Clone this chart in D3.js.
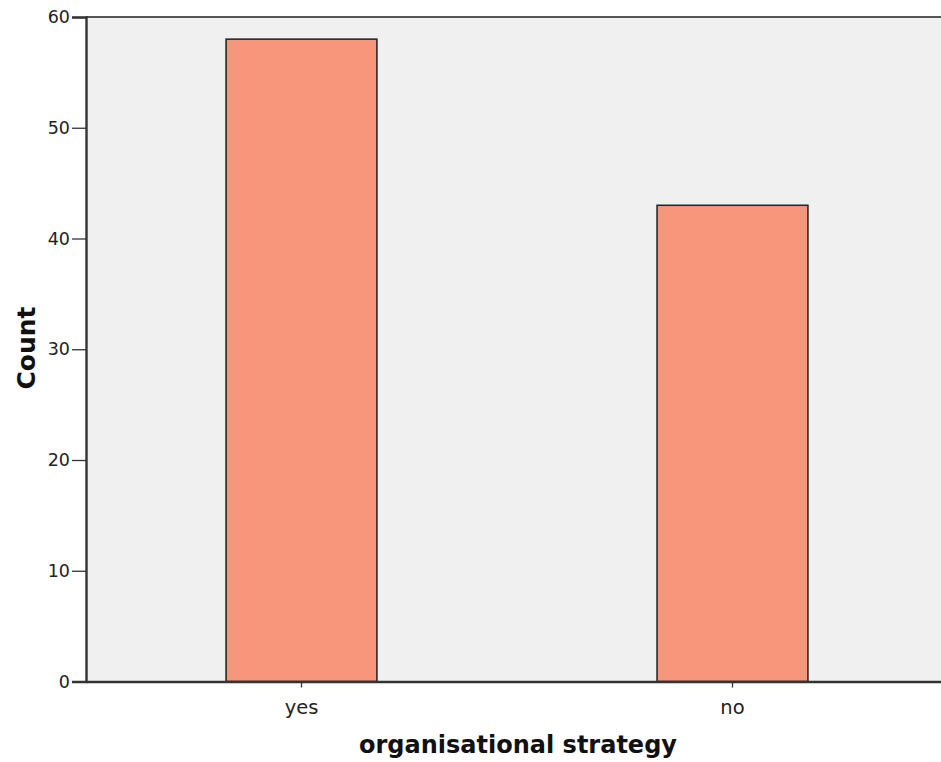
<!DOCTYPE html>
<html><head><meta charset="utf-8">
<script src="https://cdn.jsdelivr.net/npm/d3@7"></script>
<style>body{margin:0;background:#fff;} svg{display:block;}</style>
</head><body>
<svg id="c" width="941" height="762"></svg>
<script>
const categories = ["yes", "no"];
const counts = [58, 43];
const yTicks = [0, 10, 20, 30, 40, 50, 60];
const xTitle = "organisational strategy";
const yTitle = "Count";

const svg = d3.select("#c");
const L = 86, R = 948, T = 17, B = 681.5;
const x = d3.scaleBand().domain(categories).range([L, R]).paddingInner(0).paddingOuter(0);
const y = d3.scaleLinear().domain([0, 60]).range([B, T]);

svg.append("rect").attr("x", L).attr("y", T).attr("width", R - L).attr("height", B - T).attr("fill", "#f0f0f0");

const bw = x.step() * 0.35;
svg.selectAll("rect.bar").data(categories).enter().append("rect")
  .attr("class", "bar")
  .attr("x", d => x(d) + x.bandwidth() / 2 - bw / 2)
  .attr("y", (d, i) => y(counts[i]))
  .attr("width", bw)
  .attr("height", (d, i) => y(0) - y(counts[i]))
  .attr("fill", "#f7967a").attr("stroke", "#2a2a2a").attr("stroke-width", 1.6);

// top frame line
svg.append("line").attr("x1", L).attr("x2", R).attr("y1", T).attr("y2", T).attr("stroke", "#555").attr("stroke-width", 2);

const ya = d3.axisLeft(y).tickValues(yTicks).tickSize(14).tickPadding(2);
const gy = svg.append("g").attr("transform", `translate(${L},0)`).call(ya);
gy.select(".domain").attr("stroke", "#333").attr("stroke-width", 2.4);
gy.selectAll(".tick line").attr("stroke", "#333").attr("stroke-width", 1.3);
gy.selectAll(".tick text").attr("font-family", "DejaVu Sans, Verdana, sans-serif").attr("font-size", 17.5).attr("fill", "#222");

const xa = d3.axisBottom(x).tickSize(6).tickPadding(13).tickSizeOuter(0);
const gx = svg.append("g").attr("transform", `translate(0,${B})`).call(xa);
gx.select(".domain").attr("stroke", "#333").attr("stroke-width", 2.4);
gx.selectAll(".tick line").attr("stroke", "#333").attr("stroke-width", 1.3);
gx.selectAll(".tick text").attr("font-family", "DejaVu Sans, Verdana, sans-serif").attr("font-size", 19.5).attr("fill", "#222");

svg.append("text").attr("x", 518).attr("y", 753).attr("text-anchor", "middle")
  .attr("font-family", "DejaVu Sans, Verdana, sans-serif").attr("font-weight", "bold").attr("font-size", 24)
  .attr("fill", "#111").text(xTitle);
svg.append("text").attr("transform", "translate(35,348) rotate(-90)").attr("text-anchor", "middle")
  .attr("font-family", "DejaVu Sans, Verdana, sans-serif").attr("font-weight", "bold").attr("font-size", 25)
  .attr("fill", "#111").text(yTitle);
</script>
</body></html>
